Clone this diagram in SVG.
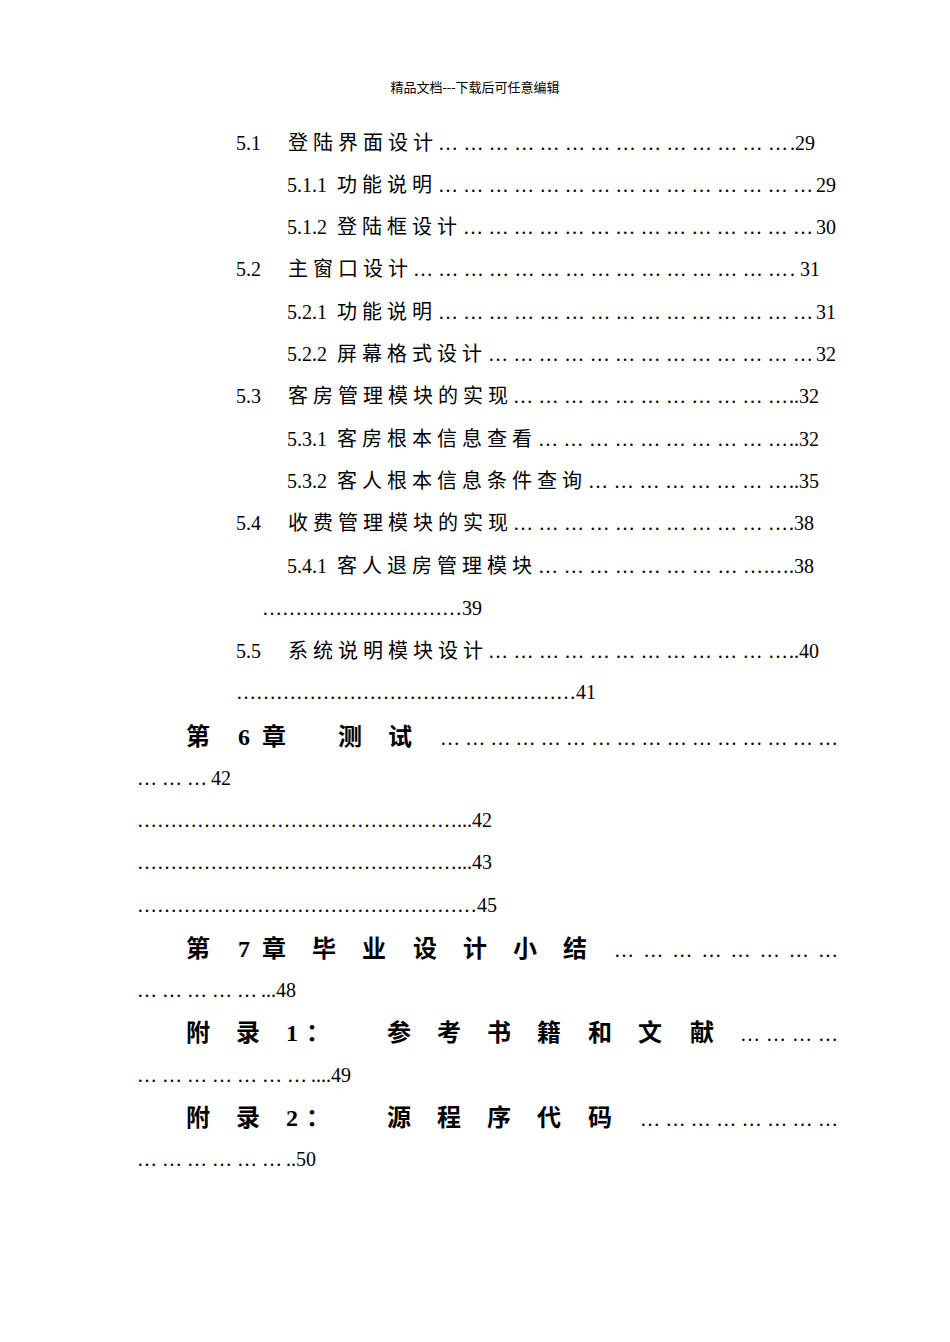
<svg xmlns="http://www.w3.org/2000/svg" width="950" height="1342" viewBox="0 0 950 1342">
<style>
text{font-family:"Liberation Serif","Noto Sans CJK SC",serif;font-size:20px;fill:#000}
.h{font-size:13px}
.c{letter-spacing:5px}
.b{font-weight:bold;font-size:24px}
</style>
<rect width="950" height="1342" fill="#fff"/>
<text class="h" x="475" y="92" text-anchor="middle">精品文档---下载后可任意编辑</text>
<g id="toc">
<text x="236" y="150">5.1</text><text class="c" x="288" y="150">登陆界面设计</text><text x="438" y="150" textLength="350" lengthAdjust="spacing">……………………………………</text><text x="790" y="150">.29</text>
<text x="287" y="192">5.1.1</text><text class="c" x="337" y="192">功能说明</text><text x="438" y="192" textLength="375" lengthAdjust="spacing">………………………………………</text><text x="816" y="192">29</text>
<text x="287" y="234">5.1.2</text><text class="c" x="337" y="234">登陆框设计</text><text x="463" y="234" textLength="350" lengthAdjust="spacing">……………………………………</text><text x="816" y="234">30</text>
<text x="236" y="276">5.2</text><text class="c" x="288" y="276">主窗口设计</text><text x="413" y="276" textLength="375" lengthAdjust="spacing">………………………………………</text><text x="790" y="276">. 31</text>
<text x="287" y="319">5.2.1</text><text class="c" x="337" y="319">功能说明</text><text x="438" y="319" textLength="375" lengthAdjust="spacing">………………………………………</text><text x="816" y="319">31</text>
<text x="287" y="361">5.2.2</text><text class="c" x="337" y="361">屏幕格式设计</text><text x="488" y="361" textLength="325" lengthAdjust="spacing">…………………………………</text><text x="816" y="361">32</text>
<text x="236" y="403">5.3</text><text class="c" x="288" y="403">客房管理模块的实现</text><text x="513" y="403" textLength="275" lengthAdjust="spacing">……………………………</text><text x="789" y="403">..32</text>
<text x="287" y="446">5.3.1</text><text class="c" x="337" y="446">客房根本信息查看</text><text x="538" y="446" textLength="250" lengthAdjust="spacing">…………………………</text><text x="789" y="446">..32</text>
<text x="287" y="488">5.3.2</text><text class="c" x="337" y="488">客人根本信息条件查询</text><text x="588" y="488" textLength="200" lengthAdjust="spacing">……………………</text><text x="789" y="488">..35</text>
<text x="236" y="530">5.4</text><text class="c" x="288" y="530">收费管理模块的实现</text><text x="513" y="530" textLength="275" lengthAdjust="spacing">……………………………</text><text x="789" y="530">.38</text>
<text x="287" y="573">5.4.1</text><text class="c" x="337" y="573">客人退房管理模块</text><text x="538" y="573" textLength="225" lengthAdjust="spacing">………………………</text><text x="764" y="573">.….38</text>
<text x="262" y="615">…………………………39</text>
<text x="236" y="658">5.5</text><text class="c" x="288" y="658">系统说明模块设计</text><text x="488" y="658" textLength="300" lengthAdjust="spacing">………………………………</text><text x="789" y="658">..40</text>
<text x="236" y="699">……………………………………………41</text>
<text class="b" x="186" y="745">第</text><text class="b" x="238" y="745">6</text><text class="b" x="262" y="745">章</text><text class="b" x="338" y="745">测</text><text class="b" x="388" y="745">试</text>
<text x="440" y="745" textLength="398" lengthAdjust="spacing">…………………………………………</text>
<text x="137" y="785" textLength="70" lengthAdjust="spacing">………</text><text x="211" y="785">42</text>
<text x="137" y="827">…………………………………………...42</text>
<text x="137" y="869">…………………………………………...43</text>
<text x="137" y="912">……………………………………………45</text>
<text class="b" x="186" y="957">第</text><text class="b" x="238" y="957">7</text><text class="b" x="262" y="957">章</text><text class="b" x="312" y="957">毕</text><text class="b" x="362" y="957">业</text><text class="b" x="413" y="957">设</text><text class="b" x="463" y="957">计</text><text class="b" x="513" y="957">小</text><text class="b" x="563" y="957">结</text>
<text x="614" y="957" textLength="224" lengthAdjust="spacing">……………………</text>
<text x="137" y="997" textLength="120" lengthAdjust="spacing">……………</text><text x="261" y="997">...48</text>
<text class="b" x="186" y="1041">附</text><text class="b" x="236" y="1041">录</text><text class="b" x="286" y="1041">1</text><text class="b" x="306" y="1041">：</text><text class="b" x="387" y="1041">参</text><text class="b" x="437" y="1041">考</text><text class="b" x="487" y="1041">书</text><text class="b" x="537" y="1041">籍</text><text class="b" x="588" y="1041">和</text><text class="b" x="638" y="1041">文</text><text class="b" x="690" y="1041">献</text>
<text x="740" y="1041" textLength="98" lengthAdjust="spacing">…………</text>
<text x="137" y="1082" textLength="170" lengthAdjust="spacing">…………………</text><text x="311" y="1082">....49</text>
<text class="b" x="186" y="1126">附</text><text class="b" x="236" y="1126">录</text><text class="b" x="286" y="1126">2</text><text class="b" x="306" y="1126">：</text><text class="b" x="387" y="1126">源</text><text class="b" x="437" y="1126">程</text><text class="b" x="487" y="1126">序</text><text class="b" x="537" y="1126">代</text><text class="b" x="588" y="1126">码</text>
<text x="640" y="1126" textLength="198" lengthAdjust="spacing">……………………</text>
<text x="137" y="1166" textLength="145" lengthAdjust="spacing">………………</text><text x="286" y="1166">..50</text>
</g>
</svg>
